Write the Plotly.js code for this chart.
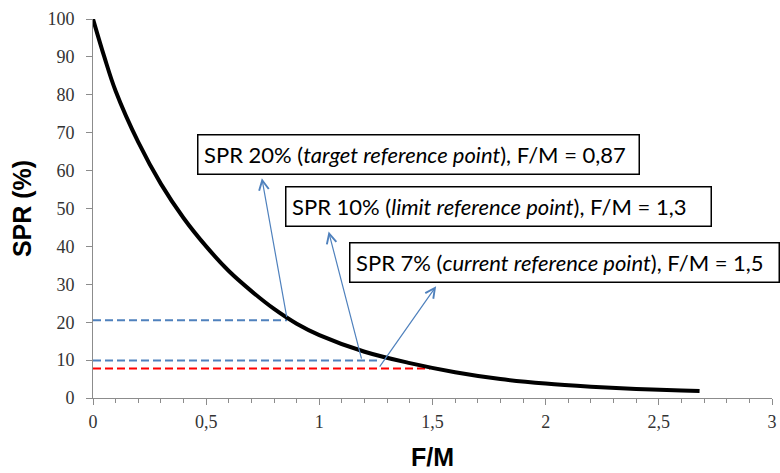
<!DOCTYPE html>
<html>
<head>
<meta charset="utf-8">
<script src="https://cdn.plot.ly/plotly-3.0.1.min.js"></script>
<style>html,body{margin:0;padding:0;background:#fff;}#chart{width:780px;height:473px;}</style>
</head>
<body>
<div id="chart"></div>
<script>
// Curve: SPR (%) as a function of F/M
var fm  = [0, 0.05, 0.1, 0.2, 0.3, 0.4, 0.5, 0.6, 0.7, 0.8, 0.9, 1.0, 1.2, 1.4, 1.6, 1.8, 2.0, 2.2, 2.4, 2.6, 2.68];
var spr = [100, 90, 81, 67.5, 56.5, 47.5, 40, 33.5, 28.2, 23.5, 19.6, 16.6, 12.2, 9.2, 6.8, 5.0, 3.8, 3.0, 2.4, 2.0, 1.85];

// Reference points (dashed horizontal lines)
var refFM    = [0.857, 1.27, 1.49];
var refSPR   = [20.5, 9.9, 7.8];
var refColor = ['#4f81bd', '#4f81bd', '#ff0000'];

// Label boxes
var refLabels = [
  'SPR 20% (<i>target reference point</i>), F/M = 0,87',
  'SPR 10% (<i>limit reference point</i>), F/M = 1,3',
  'SPR 7% (<i>current reference point</i>), F/M = 1,5'
];
var labelX = [0.459, 0.849, 1.132];
var labelY = [64.2, 50.4, 35.8];
var labelW = [443, 427, 431];

// Arrows: tail on the curve, head under the label
var arrowTailX = [0.857, 1.188, 1.262];
var arrowTailY = [21, 10.0, 7.9];
var arrowHeadX = [0.746, 1.041, 1.516];
var arrowHeadY = [58.0, 43.9, 29.5];

var xTicks = [0, 0.5, 1, 1.5, 2, 2.5, 3];
var yTicks = [0, 10, 20, 30, 40, 50, 60, 70, 80, 90, 100];

var traces = [];
for (var i = 0; i < refFM.length; i++) {
  traces.push({
    x: [0, refFM[i]], y: [refSPR[i], refSPR[i]],
    mode: 'lines', type: 'scatter', hoverinfo: 'skip', showlegend: false,
    line: {color: refColor[i], width: 2, dash: '8px,4px'}
  });
}
traces.push({
  x: fm, y: spr, mode: 'lines', type: 'scatter', showlegend: false,
  line: {color: '#000', width: 4, shape: 'spline', smoothing: 1}
});

var ann = [];
for (var j = 0; j < arrowTailX.length; j++) {
  ann.push({
    x: arrowHeadX[j], y: arrowHeadY[j], xref: 'x', yref: 'y',
    ax: arrowTailX[j], ay: arrowTailY[j], axref: 'x', ayref: 'y',
    text: '', showarrow: true, arrowhead: 5, arrowsize: 1.6, arrowwidth: 1.2,
    arrowcolor: '#4f81bd', standoff: 0, startstandoff: 0
  });
}
var pad = 5.5, bw = 1.5;
for (var k = 0; k < refLabels.length; k++) {
  ann.push({
    x: labelX[k], y: labelY[k], xref: 'x', yref: 'y',
    xanchor: 'left', yanchor: 'middle', showarrow: false,
    text: refLabels[k], align: 'left',
    width: labelW[k] - 2 * (pad + bw),
    font: {family: 'Lato, "Noto Sans", sans-serif', size: 22, color: '#000'},
    bgcolor: '#fff', bordercolor: '#000', borderwidth: bw, borderpad: pad
  });
}

var layout = {
  width: 780, height: 473,
  margin: {l: 93, r: 8, t: 19, b: 75},
  paper_bgcolor: '#fff', plot_bgcolor: '#fff',
  separators: ', ',
  showlegend: false,
  xaxis: {
    range: [0, 3], tickvals: xTicks, showgrid: false, zeroline: false,
    showline: true, linecolor: '#8c8c8c', linewidth: 1,
    ticks: 'outside', ticklen: 6, tickcolor: '#8c8c8c', ticklabelstandoff: 1,
    minor: {dtick: 0.1, ticks: 'outside', ticklen: 4, tickcolor: '#8c8c8c', showgrid: false},
    tickfont: {family: '"Liberation Serif", serif', size: 18, color: '#333'},
    title: {text: '<b>F/M</b>', font: {family: '"Liberation Sans", Arial, sans-serif', size: 25, color: '#000'}, standoff: 17}
  },
  yaxis: {
    range: [0, 100], tickvals: yTicks, showgrid: false, zeroline: false,
    showline: true, linecolor: '#8c8c8c', linewidth: 1,
    ticks: 'outside', ticklen: 6, tickcolor: '#8c8c8c', ticklabelstandoff: 8,
    tickfont: {family: '"Liberation Serif", serif', size: 18, color: '#333'},
    title: {text: '<b>SPR (%)</b>', font: {family: '"Liberation Sans", Arial, sans-serif', size: 25, color: '#000'}, standoff: 8}
  },
  annotations: ann
};

Plotly.newPlot('chart', traces, layout, {staticPlot: true, displayModeBar: false});
</script>
</body>
</html>
